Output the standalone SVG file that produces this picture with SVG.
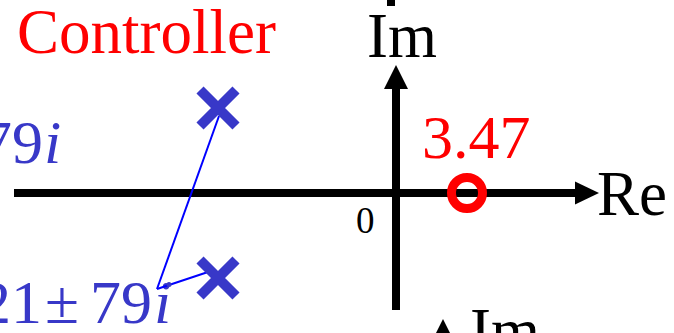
<svg xmlns="http://www.w3.org/2000/svg" width="674" height="333" viewBox="0 0 674 333">
<style>
.t{font-family:'Liberation Serif','Times New Roman',serif}
.red{fill:#ff0000}
.blk{fill:#000}
.blue{fill:#3838c8}
.ax{stroke:#000;stroke-width:8;fill:none}
.cross{stroke:#3838c8;stroke-width:10;fill:none}
.lead{stroke:#0000ff;stroke-width:2;fill:none}
</style>
<g id="axes">
<rect x="387" y="0" width="8" height="6" fill="#000"/>
<line class="ax" x1="14" y1="193" x2="577" y2="193"/>
<polygon points="599,193 575,181.5 575,204.5" fill="#000"/>
<line class="ax" x1="396" y1="86" x2="396" y2="310"/>
<polygon points="396,65 384,89 408,89" fill="#000"/>
<polygon points="443,319 431,343 455,343" fill="#000"/>
</g>
<g id="labels">
<text class="t red" x="17" y="53" font-size="63" font-family="Liberation Serif, serif">Controller</text>
<text class="t blk" x="367" y="57" font-size="63" font-family="Liberation Serif, serif">Im</text>
<text class="t red" x="422" y="158" font-size="62" font-family="Liberation Serif, serif">3.47</text>
<text class="t blk" x="597" y="215" font-size="63" font-family="Liberation Serif, serif">Re</text>
<text class="t blk" x="356" y="233" font-size="37" font-family="Liberation Serif, serif">0</text>
<text class="t blk" x="470" y="352" font-size="63" font-family="Liberation Serif, serif">Im</text>
<text class="t blue" y="163" font-size="62" font-family="Liberation Serif, serif"><tspan x="-19">79</tspan><tspan x="44" font-style="italic">i</tspan></text>
<text class="t blue" y="323" font-size="62" font-family="Liberation Serif, serif"><tspan x="-20">21</tspan><tspan x="45">±</tspan><tspan x="90">79</tspan><tspan x="154" font-style="italic">i</tspan></text>
</g>
<g id="connectors">
<line class="lead" x1="219" y1="116" x2="157" y2="289"/>
<line class="lead" x1="208" y1="272" x2="157" y2="289"/>
<circle cx="169" cy="284.5" r="2.5" fill="#3838c8"/>
</g>
<g id="zero">
<circle cx="467" cy="193" r="15.5" fill="none" stroke="#ff0000" stroke-width="9"/>
</g>
<g id="pole-top">
<path class="cross" d="M200,90 L236,126 M236,90 L200,126"/>
</g>
<g id="pole-bottom">
<path class="cross" d="M200,260 L236,296 M236,260 L200,296"/>
</g>
</svg>
